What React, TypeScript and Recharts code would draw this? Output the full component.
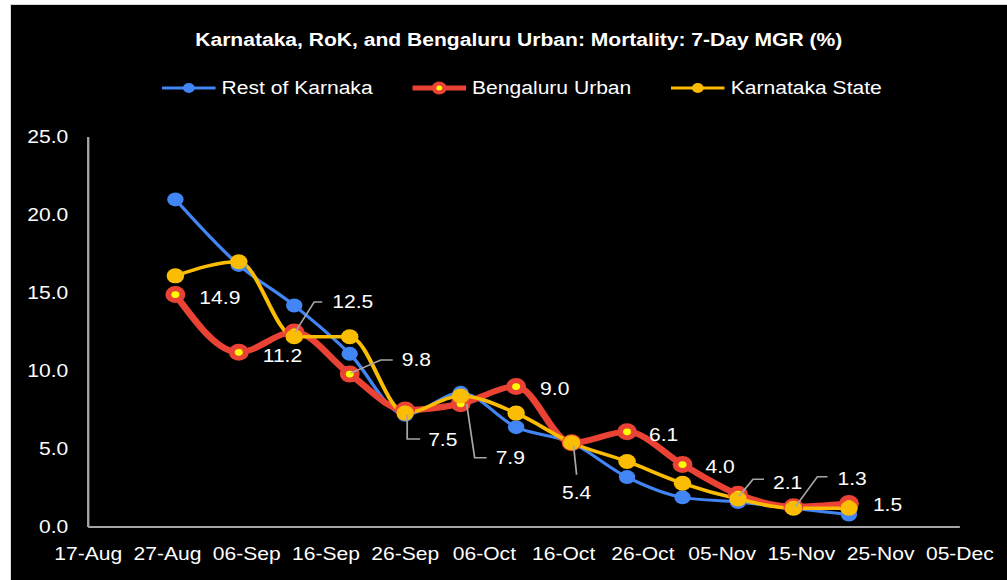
import React from 'react';
import { LineChart, Line, XAxis, YAxis } from 'recharts';

// the reference picture is stretched sideways, so the whole chart is drawn narrow and scaled back out
const S = 1.17;
const W = 996;
const H = 575;
const FONT = "'Liberation Sans', Arial, sans-serif";

const BLUE = '#4285F4';
const RED = '#EA4335';
const YELLOW = '#FBBC04';
const GREY = '#a6a6a6';

const dates = [
  '2020-08-28', '2020-09-05', '2020-09-12', '2020-09-19', '2020-09-26', '2020-10-03', '2020-10-10',
  '2020-10-17', '2020-10-24', '2020-10-31', '2020-11-07', '2020-11-14', '2020-11-21'
];
const restOfKarnataka = [21.0, 16.8, 14.2, 11.1, 7.2, 8.6, 6.4, 5.4, 3.2, 1.9, 1.6, 1.2, 0.8];
const bengaluruUrban = [14.9, 11.2, 12.5, 9.8, 7.5, 7.9, 9.0, 5.4, 6.1, 4.0, 2.1, 1.3, 1.5];
const karnatakaState = [16.1, 17.0, 12.2, 12.2, 7.3, 8.4, 7.3, 5.4, 4.2, 2.8, 1.8, 1.2, 1.2];

const xTickDates = [
  '2020-08-17', '2020-08-27', '2020-09-06', '2020-09-16', '2020-09-26', '2020-10-06',
  '2020-10-16', '2020-10-26', '2020-11-05', '2020-11-15', '2020-11-25', '2020-12-05'
];
const xTickLabels = [
  '17-Aug', '27-Aug', '06-Sep', '16-Sep', '26-Sep', '06-Oct',
  '16-Oct', '26-Oct', '05-Nov', '15-Nov', '25-Nov', '05-Dec'
];
const yTicks = [0, 5, 10, 15, 20, 25];

const toDay = (s: string) => Date.parse(s) / 86400000;
const xTicks = xTickDates.map(toDay);

const data = dates.map((d, i) => ({
  t: toDay(d),
  rok: restOfKarnataka[i],
  blr: bengaluruUrban[i],
  kar: karnatakaState[i]
}));

// label placement for the Bengaluru series, in picture pixels from the point
type LabelSpot = { dx: number; dy: number; anchor?: string; leader?: number[][] };
const labelSpots: LabelSpot[] = [
  { dx: 24, dy: 3 },
  { dx: 24, dy: 3 },
  { dx: 38, dy: -30, leader: [[1, 0], [20, -30], [28, -30]] },
  { dx: 52, dy: -14, leader: [[1, -1], [31, -14], [43, -14]] },
  { dx: 23, dy: 30, leader: [[2, 5], [2, 29], [15, 29]] },
  { dx: 35, dy: 54, leader: [[6, 0], [14, 54], [26, 54]] },
  { dx: 24, dy: 2 },
  { dx: 5, dy: 50, anchor: 'middle', leader: [[2, 3], [5, 32]] },
  { dx: 22, dy: 3 },
  { dx: 23, dy: 2 },
  { dx: 35, dy: -12, leader: [[1, 2], [15, -15], [26, -15]] },
  { dx: 44, dy: -28, leader: [[2, 0], [24, -30], [34, -30]] },
  { dx: 24, dy: 1 }
];

function RedDot(props: any) {
  const { cx, cy, index } = props;
  if (cx == null || cy == null) return <g key={`rd-${index}`} />;
  return (
    <g key={`rd-${index}`}>
      <circle cx={cx} cy={cy} r={8.5} fill={RED} />
      <circle cx={cx} cy={cy} r={3.4} fill="#FFFF00" />
    </g>
  );
}

function RedLabel(props: any) {
  const { x, y, value, index } = props;
  const spot = labelSpots[index];
  if (!spot || x == null || y == null) return null;
  const pts = spot.leader
    ? spot.leader.map(([a, b]) => `${x + a / S},${y + b}`).join(' ')
    : null;
  return (
    <g>
      {pts && <polyline points={pts} fill="none" stroke={GREY} strokeWidth={1.5} />}
      <text
        x={x + spot.dx / S}
        y={y + spot.dy}
        dy="0.35em"
        textAnchor={spot.anchor || 'start'}
        fill="#fff"
        fontSize={18}
        fontFamily={FONT}
      >
        {Number(value).toFixed(1)}
      </text>
    </g>
  );
}

const legendItems = [
  { name: 'Rest of Karnaka', color: BLUE, width: 3, r: 5, inner: false },
  { name: 'Bengaluru Urban', color: RED, width: 5, r: 6.5, inner: true },
  { name: 'Karnataka State', color: YELLOW, width: 3, r: 5, inner: false }
];

export default function App() {
  return (
    <div
      style={{
        position: 'absolute',
        left: 10,
        top: 4,
        width: W + 1,
        height: H + 1,
        background: '#000',
        borderTop: '1px solid #d9d9d9',
        borderLeft: '1px solid #d9d9d9',
        overflow: 'hidden',
        fontFamily: FONT
      }}
    >
      <style>{'body{margin:0;overflow:hidden}'}</style>
      <div
        style={{
          position: 'absolute',
          left: 0,
          top: 0,
          width: W / S,
          height: H,
          transform: `scaleX(${S})`,
          transformOrigin: '0 0'
        }}
      >
        <div
          style={{
            position: 'absolute',
            left: 0,
            top: 24,
            width: 868,
            textAlign: 'center',
            color: '#fff',
            fontWeight: 'bold',
            fontSize: 18,
            lineHeight: '22px'
          }}
        >
          Karnataka, RoK, and Bengaluru Urban: Mortality: 7-Day MGR (%)
        </div>
        <div style={{ position: 'absolute', left: 129, top: 72, display: 'flex', alignItems: 'center', height: 22 }}>
          {legendItems.map((item, i) => (
            <div key={item.name} style={{ display: 'flex', alignItems: 'center', marginLeft: i ? 34 : 0 }}>
              <svg width={46} height={20}>
                <line x1={0} x2={46} y1={10} y2={10} stroke={item.color} strokeWidth={item.width} />
                <circle cx={23} cy={10} r={item.r} fill={item.color} />
                {item.inner && <circle cx={23} cy={10} r={2.5} fill="#FFFF00" />}
              </svg>
              <span style={{ color: '#fff', fontSize: 18, marginLeft: 5, lineHeight: '22px' }}>{item.name}</span>
            </div>
          ))}
        </div>
        <LineChart
          width={W / S}
          height={H}
          data={data}
          margin={{ top: 132, right: W / S - 811, bottom: 0, left: 0 }}
          style={{ position: 'absolute', left: 0, top: 0 }}
        >
          <XAxis
            dataKey="t"
            type="number"
            domain={[xTicks[0], xTicks[xTicks.length - 1]]}
            ticks={xTicks}
            interval={0}
            tickFormatter={(v: number) => xTickLabels[xTicks.indexOf(v)]}
            tickLine={false}
            tickSize={0}
            tickMargin={20}
            height={53}
            axisLine={{ stroke: GREY, strokeWidth: 2 }}
            tick={{ fill: '#fff', fontSize: 18, fontFamily: FONT }}
          />
          <YAxis
            type="number"
            domain={[0, 25]}
            ticks={yTicks}
            interval={0}
            tickFormatter={(v: number) => v.toFixed(1)}
            tickLine={false}
            tickSize={0}
            tickMargin={17}
            width={66}
            axisLine={{ stroke: GREY, strokeWidth: 2 }}
            tick={{ fill: '#fff', fontSize: 18, fontFamily: FONT }}
          />
          <Line
            dataKey="rok"
            type="monotone"
            stroke={BLUE}
            strokeWidth={3}
            dot={{ r: 7, fill: BLUE, stroke: BLUE, strokeWidth: 0 }}
            activeDot={false}
            isAnimationActive={false}
          />
          <Line
            dataKey="blr"
            type="monotone"
            stroke={RED}
            strokeWidth={6}
            dot={RedDot}
            activeDot={false}
            isAnimationActive={false}
          />
          <Line
            dataKey="kar"
            type="monotone"
            stroke={YELLOW}
            strokeWidth={3.5}
            dot={{ r: 7.5, fill: YELLOW, stroke: YELLOW, strokeWidth: 0 }}
            activeDot={false}
            isAnimationActive={false}
          />
          {/* labels for Bengaluru drawn last so the leader lines sit on top */}
          <Line
            dataKey="blr"
            stroke="none"
            dot={false}
            activeDot={false}
            legendType="none"
            label={RedLabel}
            isAnimationActive={false}
          />
        </LineChart>
      </div>
    </div>
  );
}
